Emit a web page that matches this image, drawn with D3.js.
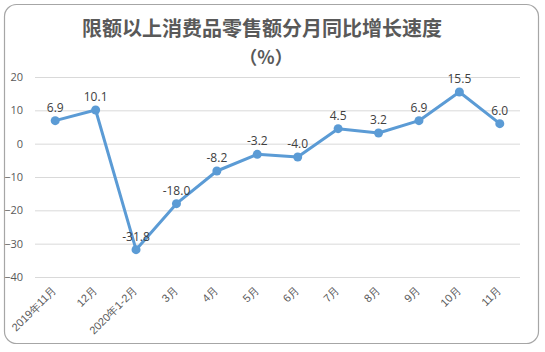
<!DOCTYPE html>
<html>
<head>
<meta charset="utf-8">
<script src="https://cdn.jsdelivr.net/npm/d3@7"></script>
<style>
  body { margin: 0; background: #fff; }
  svg { display: block; font-family: "Noto Sans CJK SC", "Noto Sans", sans-serif; }
</style>
</head>
<body>
<svg></svg>
<script>
const months = ['2019年11月', '12月', '2020年1-2月', '3月', '4月', '5月', '6月', '7月', '8月', '9月', '10月', '11月'];
const growth = [6.9, 10.1, -31.8, -18.0, -8.2, -3.2, -4.0, 4.5, 3.2, 6.9, 15.5, 6.0];
const yTicks = [20, 10, 0, -10, -20, -30, -40];

const svgWidth = 545;
const svgHeight = 352;
const margin = { top: 77, right: 25, bottom: 75, left: 35 };
const width = svgWidth - margin.left - margin.right;
const height = svgHeight - margin.top - margin.bottom;

const svg = d3.select('svg')
    .attr('width', svgWidth)
    .attr('height', svgHeight);

// rounded frame
svg.append('rect')
    .attr('x', 4.5)
    .attr('y', 4.5)
    .attr('width', 534)
    .attr('height', 339)
    .attr('rx', 12)
    .attr('fill', '#fff')
    .attr('stroke', '#a6a6a6')
    .attr('stroke-width', 1.2);

svg.append('text')
    .attr('x', 262)
    .attr('y', 36)
    .attr('text-anchor', 'middle')
    .attr('font-size', '20px')
    .attr('font-weight', 'bold')
    .attr('fill', '#595959')
    .text('限额以上消费品零售额分月同比增长速度');

svg.append('text')
    .attr('x', 266)
    .attr('y', 64)
    .attr('text-anchor', 'middle')
    .attr('font-size', '18px')
    .attr('font-weight', 'bold')
    .attr('fill', '#595959')
    .text('（%）');

const g = svg.append('g')
    .attr('transform', `translate(${margin.left}, ${margin.top})`);

const xScale = d3.scaleBand()
    .domain(months)
    .range([0, width]);

const yScale = d3.scaleLinear()
    .domain([-40, 20])
    .range([height, 0]);

const xc = d => xScale(d) + xScale.bandwidth() / 2;

// gridlines + y labels
const yAxis = g.append('g')
    .call(d3.axisLeft(yScale).tickValues(yTicks).tickSize(-width).tickPadding(12));
yAxis.select('.domain').remove();
yAxis.selectAll('.tick line')
    .attr('stroke', '#d9d9d9')
    .attr('stroke-width', 1);
yAxis.selectAll('.tick text')
    .attr('x', -12)
    .attr('text-anchor', 'end')
    .attr('font-size', '11px')
    .attr('fill', '#595959')
    .attr('font-family', '"Open Sans", "Noto Sans", sans-serif');

// x labels, rotated
const xAxis = g.append('g')
    .attr('transform', `translate(0, ${height})`)
    .call(d3.axisBottom(xScale).tickSize(0).tickPadding(0));
xAxis.select('.domain').remove();
xAxis.selectAll('.tick text')
    .attr('text-anchor', 'end')
    .attr('font-size', '11px')
    .attr('fill', '#595959')
    .attr('dy', 0)
    .attr('transform', 'translate(2, 14) rotate(-45)');

const line = d3.line()
    .x((d, i) => xc(months[i]))
    .y(d => yScale(d));

g.append('path')
    .datum(growth)
    .attr('d', line)
    .attr('fill', 'none')
    .attr('stroke', '#5b9bd5')
    .attr('stroke-width', 3)
    .attr('stroke-linejoin', 'round');

g.selectAll('circle')
    .data(growth)
    .enter()
    .append('circle')
    .attr('cx', (d, i) => xc(months[i]))
    .attr('cy', d => yScale(d))
    .attr('r', 4.5)
    .attr('fill', '#5b9bd5');

g.selectAll('.val')
    .data(growth)
    .enter()
    .append('text')
    .attr('class', 'val')
    .attr('x', (d, i) => xc(months[i]))
    .attr('y', d => yScale(d) - 9)
    .attr('text-anchor', 'middle')
    .attr('font-size', '12px')
    .attr('fill', '#404040')
    .attr('font-family', '"Open Sans", "Noto Sans", sans-serif')
    .text(d => d.toFixed(1));
</script>
</body>
</html>
